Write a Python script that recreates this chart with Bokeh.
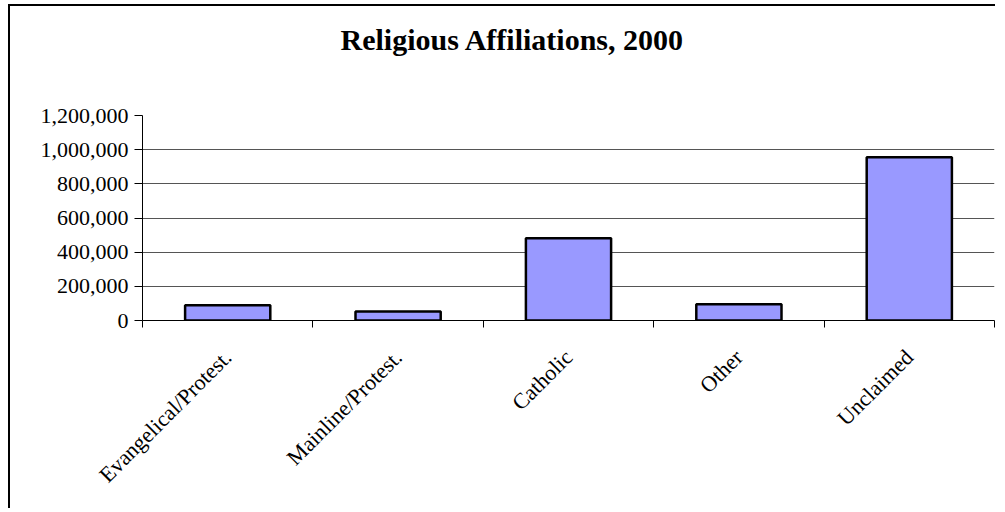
import math
from bokeh.plotting import figure
from bokeh.models import FixedTicker, NumeralTickFormatter, Range1d, ColumnDataSource, Title
from bokeh.embed import file_html
from bokeh.resources import INLINE

title_text = "Religious Affiliations, 2000"
categories = ["Evangelical/Protest.", "Mainline/Protest.", "Catholic", "Other", "Unclaimed"]
values = [90000, 53000, 482000, 95000, 955000]
y_ticks = [0, 200000, 400000, 600000, 800000, 1000000, 1200000]

positions = [i + 0.5 for i in range(len(categories))]
boundaries = [i for i in range(len(categories) + 1)]
source = ColumnDataSource(dict(x=positions, top=values, cat=categories))

p = figure(width=987, height=504, output_backend="svg", toolbar_location=None,
           x_range=Range1d(0, len(categories)), y_range=Range1d(0, 1200000),
           min_border_left=132, min_border_right=3, min_border_top=109, min_border_bottom=190,
           title=None)
p.styles = {"border-left": "2px solid black", "border-top": "2px solid black",
            "margin-left": "8px", "margin-top": "4px"}

# spacer between plot area and the chart title (nearest to the frame)
spacer = Title(text=" ", text_font_size="10px", standoff=40, text_color="white")
p.add_layout(spacer, "above")

main_title = Title(text=title_text, align="left", offset=198, vertical_align="top",
                   standoff=10, text_font="Liberation Serif", text_font_style="bold",
                   text_font_size="30px", text_color="black")
p.add_layout(main_title, "above")

p.vbar(x="x", top="top", width=0.5, bottom=0, source=source,
       fill_color="#9999FF", line_color="black", line_width=2.5)

p.outline_line_color = None
p.xgrid.visible = False
p.ygrid.ticker = FixedTicker(ticks=y_ticks)
p.ygrid.grid_line_color = "#555555"
p.ygrid.grid_line_width = 1

ya = p.yaxis[0]
ya.ticker = FixedTicker(ticks=y_ticks)
ya.formatter = NumeralTickFormatter(format="0,0")
ya.axis_line_color = "black"
ya.major_tick_line_color = "black"
ya.major_tick_out = 8
ya.major_tick_in = 0
ya.minor_tick_line_color = None
ya.major_label_text_font = "Liberation Serif"
ya.major_label_text_font_size = "22px"
ya.major_label_text_color = "black"
ya.major_label_standoff = 6

xa = p.xaxis[0]
xa.ticker = FixedTicker(ticks=positions, minor_ticks=boundaries)
xa.major_label_overrides = {pos: cat for pos, cat in zip(positions, categories)}
xa.axis_line_color = "black"
xa.major_tick_line_color = None
xa.major_tick_out = 0
xa.major_tick_in = 0
xa.minor_tick_line_color = "black"
xa.minor_tick_out = 7
xa.minor_tick_in = 0
xa.major_label_orientation = math.pi / 4
xa.major_label_text_font = "Liberation Serif"
xa.major_label_text_font_size = "22px"
xa.major_label_text_color = "black"
xa.major_label_standoff = 26

open("out.html", "w").write(file_html(p, INLINE))
